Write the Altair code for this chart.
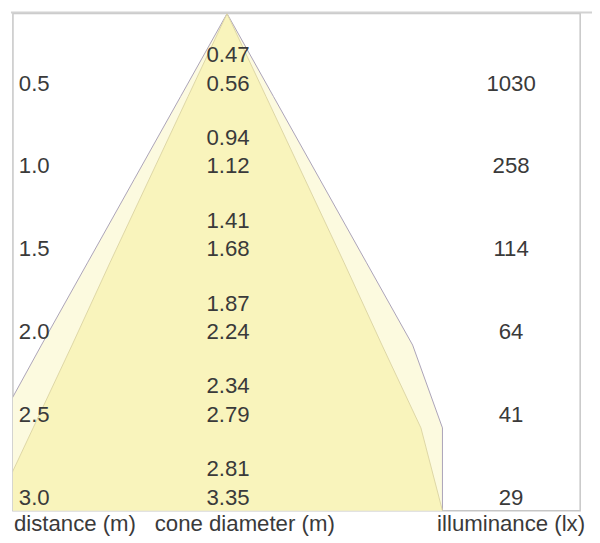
import altair as alt
import pandas as pd

# ---- data ----
distance = [0.5, 1.0, 1.5, 2.0, 2.5, 3.0]
inner_diameter = [0.47, 0.94, 1.41, 1.87, 2.34, 2.81]
outer_diameter = [0.56, 1.12, 1.68, 2.24, 2.79, 3.35]
illuminance = [1030, 258, 114, 64, 41, 29]
column_titles = ["distance (m)", "cone diameter (m)", "illuminance (lx)"]

RIGHT_CUT = 1.3  # m, where the drawn beam is cut on the right

# cone geometry (apex at distance 0, diameter 0)
cone = pd.DataFrame({
    "d": [0.0] + distance,
    "inner": [0.0] + [v / 2 for v in inner_diameter],
    "outer": [0.0] + [v / 2 for v in outer_diameter],
})
cone["inner_l"] = -cone["inner"]
cone["outer_l"] = -cone["outer"]
cone["inner_r"] = cone["inner"].clip(upper=RIGHT_CUT)
cone["outer_r"] = cone["outer"].clip(upper=RIGHT_CUT)

edges = pd.concat([
    pd.DataFrame({"d": cone["d"], "x": cone["outer_l"], "edge": "outer_l", "kind": "outer"}),
    pd.DataFrame({"d": cone["d"], "x": cone["outer_r"], "edge": "outer_r", "kind": "outer"}),
    pd.DataFrame({"d": cone["d"], "x": cone["inner_l"], "edge": "inner_l", "kind": "inner"}),
    pd.DataFrame({"d": cone["d"], "x": cone["inner_r"], "edge": "inner_r", "kind": "inner"}),
])

table = pd.DataFrame({
    "d": distance,
    "inner": inner_diameter,
    "outer": outer_diameter,
    "lux": illuminance,
})

xscale = alt.Scale(domain=[-1.292, 2.131], nice=False, zero=False)
yscale = alt.Scale(domain=[0, 3], reverse=True, nice=False, zero=False)

FONT = "Liberation Sans"
FS = 22.5
TXT = "#3a3a3a"

outer_area = alt.Chart(cone).mark_area(
    orient="horizontal", clip=True, color="#FCFADF", opacity=1
).encode(
    y=alt.Y("d:Q", scale=yscale, axis=None),
    x=alt.X("outer_l:Q", scale=xscale, axis=None),
    x2="outer_r:Q",
)

inner_area = alt.Chart(cone).mark_area(
    orient="horizontal", clip=True, color="#F9F4BC", opacity=1
).encode(
    y=alt.Y("d:Q", scale=yscale, axis=None),
    x=alt.X("inner_l:Q", scale=xscale, axis=None),
    x2="inner_r:Q",
)

edge_lines = alt.Chart(edges).mark_line(clip=True, strokeWidth=1).encode(
    y=alt.Y("d:Q", scale=yscale, axis=None),
    x=alt.X("x:Q", scale=xscale, axis=None),
    detail="edge:N",
    order="d:Q",
    color=alt.Color(
        "kind:N",
        scale=alt.Scale(domain=["outer", "inner"], range=["#ABA3B8", "#DDD6A6"]),
        legend=None,
    ),
)

dist_text = alt.Chart(table).mark_text(
    align="left", baseline="alphabetic", dy=-6, font=FONT, fontSize=FS, color=TXT
).encode(
    x=alt.value(6),
    y=alt.Y("d:Q", scale=yscale, axis=None),
    text=alt.Text("d:Q", format=".1f"),
)

outer_text = alt.Chart(table).mark_text(
    align="center", baseline="alphabetic", dy=-6, font=FONT, fontSize=FS, color=TXT
).encode(
    x=alt.value(218),
    y=alt.Y("d:Q", scale=yscale, axis=None),
    text=alt.Text("outer:Q", format=".2f"),
)

inner_text = alt.Chart(table).mark_text(
    align="center", baseline="alphabetic", dy=-35, font=FONT, fontSize=FS, color=TXT
).encode(
    x=alt.value(218),
    y=alt.Y("d:Q", scale=yscale, axis=None),
    text=alt.Text("inner:Q", format=".2f"),
)

lux_text = alt.Chart(table).mark_text(
    align="center", baseline="alphabetic", dy=-6, font=FONT, fontSize=FS, color=TXT
).encode(
    x=alt.value(505),
    y=alt.Y("d:Q", scale=yscale, axis=None),
    text=alt.Text("lux:Q"),
)

title_layers = []
for title, xpos, al in zip(column_titles, [1, 235, 505], ["left", "center", "center"]):
    title_layers.append(
        alt.Chart(pd.DataFrame({"t": [title]})).mark_text(
            align=al, baseline="alphabetic", font=FONT, fontSize=FS, color=TXT
        ).encode(x=alt.value(xpos), y=alt.value(524), text="t:N")
    )

top_rule = alt.Chart(pd.DataFrame({"a": [0]})).mark_rule(
    color="#d2d2d2", strokeWidth=2
).encode(x=alt.value(-2), x2=alt.value(600), y=alt.value(-1))

chart = alt.layer(
    outer_area, inner_area, edge_lines,
    dist_text, outer_text, inner_text, lux_text,
    *title_layers, top_rule,
).properties(
    width=575,
    height=504,
    autosize=alt.AutoSizeParams(type="none"),
    padding={"left": 5, "top": 2, "right": 12, "bottom": 29},
    background="white",
).configure_view(
    stroke="#c6c6c6", strokeWidth=1.5
)

chart.save("out.html", embed_options={"renderer": "svg", "actions": False})
